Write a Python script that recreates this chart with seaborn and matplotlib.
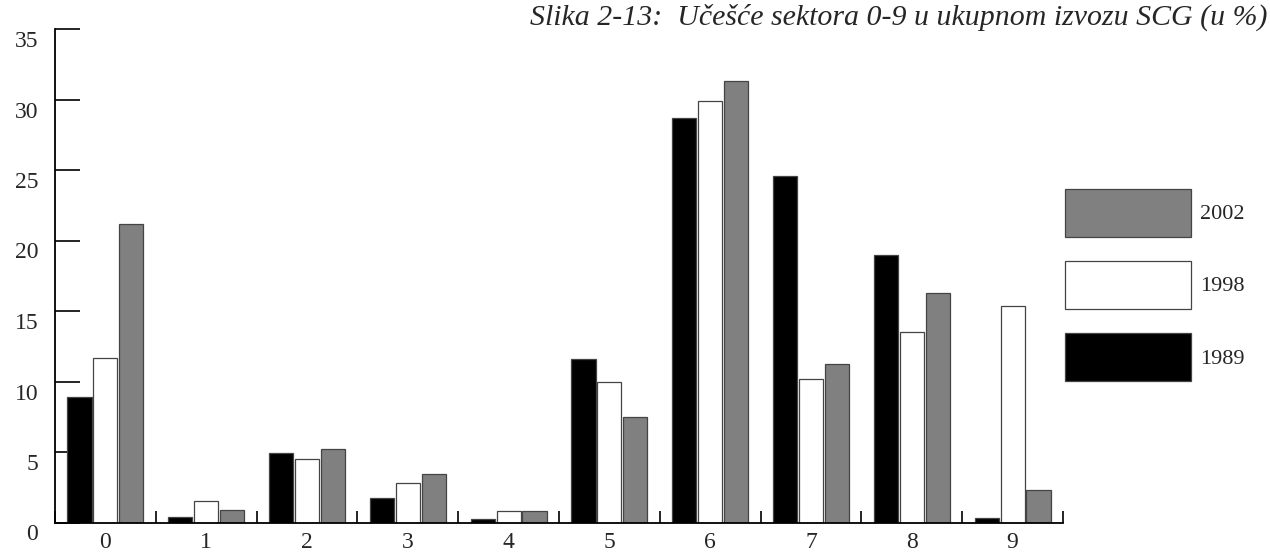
import matplotlib
matplotlib.use("Agg")
import matplotlib.pyplot as plt
import matplotlib.transforms as mtransforms
from matplotlib.patches import Patch
import pandas as pd
import seaborn as sns

# Sectors 0-9, share of total export (%)
sectors = ["0", "1", "2", "3", "4", "5", "6", "7", "8", "9"]
years = ["1989", "1998", "2002"]
share_1989 = [8.9, 0.4, 4.9, 1.75, 0.25, 11.6, 28.7, 24.6, 19.0, 0.35]
share_1998 = [11.7, 1.5, 4.5, 2.8, 0.8, 10.0, 29.9, 10.2, 13.5, 15.35]
share_2002 = [21.2, 0.9, 5.2, 3.45, 0.85, 7.5, 31.3, 11.25, 16.25, 2.3]
year_colors = ["#000000", "#ffffff", "#808080"]
title = "Slika 2-13:  Učešće sektora 0-9 u ukupnom izvozu SCG (u %)"

df = pd.DataFrame({
    "sector": sectors * 3,
    "year": [y for y in years for _ in sectors],
    "share": share_1989 + share_1998 + share_2002,
})

sns.set_theme(style="white")
plt.rcParams["font.family"] = ["Liberation Serif", "DejaVu Serif"]

fig = plt.figure(figsize=(12.7, 5.52), dpi=100)
ax = fig.add_axes([55 / 1270, 1 - 522.5 / 552, (1063 - 55) / 1270, (522.5 - 29) / 552])

sns.barplot(
    data=df, x="sector", y="share", hue="year", order=sectors, hue_order=years,
    palette=year_colors, width=0.77, gap=0.07, edgecolor="#444444",
    linewidth=0.9, legend=False, ax=ax,
)

ax.set_xlim(-0.5, len(sectors) - 0.5)
ax.set_ylim(0, 35)
ax.set_yticks(range(0, 36, 5))
ax.set_xlabel("")
ax.set_ylabel("")

for side in ["top", "right"]:
    ax.spines[side].set_visible(False)
for side in ["left", "bottom"]:
    ax.spines[side].set_linewidth(1.3)
    ax.spines[side].set_color("black")

ax.tick_params(axis="y", direction="in", length=18, width=1.2, color="black",
               pad=12, labelsize=17, left=True)
ax.set_xticks(range(len(sectors)))
ax.set_xticks([i - 0.5 for i in range(len(sectors) + 1)], minor=True)
ax.tick_params(axis="x", which="major", length=0, pad=7, labelsize=17)
ax.tick_params(axis="x", which="minor", direction="in", length=9, width=1.2,
               color="black", bottom=True)

# y labels sit a little below their ticks in the original
shift = mtransforms.ScaledTranslation(0, -10 / 100, fig.dpi_scale_trans)
for lab in ax.get_yticklabels():
    lab.set_transform(lab.get_transform() + shift)

handles = [Patch(facecolor=c, edgecolor="#444444", linewidth=0.9, label=y)
           for y, c in zip(years, year_colors)][::-1]
fig.legend(handles=handles, loc="upper left", bbox_to_anchor=(1058 / 1270, 1 - 182 / 552),
           frameon=False, fontsize=16, handlelength=5.7, handleheight=2.96,
           labelspacing=1.08, handletextpad=0.4, borderpad=0.3, borderaxespad=0)

fig.text(1268 / 1270, 1 - 17 / 552, title, ha="right", va="center",
         fontsize=21.5, style="italic")

fig.savefig("out.png", dpi=100)
